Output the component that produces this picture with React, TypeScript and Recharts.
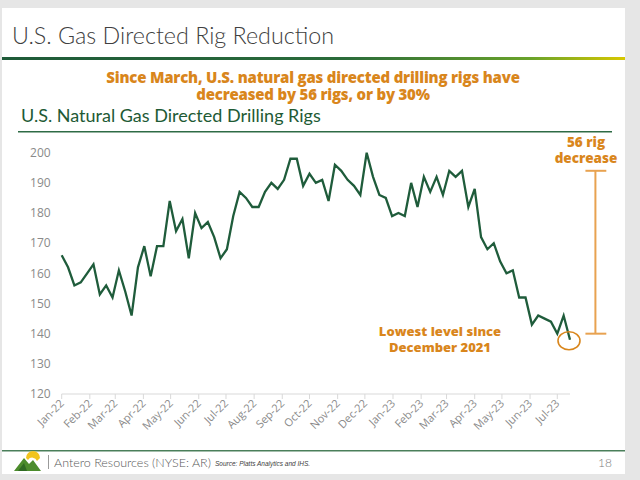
import React from 'react';
import { LineChart, Line, XAxis, YAxis, ReferenceLine, ReferenceDot } from 'recharts';

// Weekly U.S. natural gas directed rig counts, first week of Jan-2022 to mid Jul-2023
const rigCounts = [
  166, 162, 156, 157, 160, 163, 153, 156, 152, 161, 154, 146, 162, 169, 159, 169, 169, 184, 174, 178,
  165, 180, 175, 177, 172, 165, 168, 179, 187, 185, 182, 182, 187, 190, 188, 191, 198, 198, 189, 193,
  190, 191, 184, 196, 194, 191, 189, 186, 200, 192, 186, 185, 179, 180, 179, 190, 182, 192, 187, 192,
  186, 194, 192, 194, 182, 188, 172, 168, 170, 164, 160, 161, 152, 152, 143, 146, 145, 144, 140, 146, 138,
];
const monthLabels = [
  'Jan-22', 'Feb-22', 'Mar-22', 'Apr-22', 'May-22', 'Jun-22', 'Jul-22', 'Aug-22', 'Sep-22', 'Oct-22',
  'Nov-22', 'Dec-22', 'Jan-23', 'Feb-23', 'Mar-23', 'Apr-23', 'May-23', 'Jun-23', 'Jul-23',
];
const yTicks = [120, 130, 140, 150, 160, 170, 180, 190, 200];
const decreaseFrom = 194;
const decreaseTo = 140;

const DAY = 86400000;
const origin = Date.UTC(2022, 0, 1);
const monthDays = monthLabels.map((_, i) => Math.round((Date.UTC(2022, i, 1) - origin) / DAY));
const data = rigCounts.map((v, i) => ({ day: i * 7, rigs: v }));
const lastPoint = data[data.length - 1];
const barDay = 588;

const ORANGE = '#D9861C';
const BAR = '#E8A250';
const GREEN = '#1F5C3B';
const HEAVY = "'Open Sans', sans-serif";

const XTick = (props: any) => {
  const { x, y, payload } = props;
  const idx = monthDays.indexOf(payload.value);
  const label = idx >= 0 ? monthLabels[idx] : '';
  return (
    <g transform={`translate(${x + 3},${y + 3})`}>
      <text x={0} y={0} textAnchor="end" transform="rotate(-45)" fontSize={11} fill="#8a8a8a" fontFamily="'Open Sans', sans-serif">
        {label}
      </text>
    </g>
  );
};

const EllipseShape = (props: any) => (
  <ellipse cx={props.cx - 1} cy={props.cy + 1} rx={11} ry={9} fill="none" stroke={ORANGE} strokeWidth={1.6} />
);

export default function App() {
  return (
    <div style={{ position: 'absolute', left: 0, top: 0, width: 640, height: 480, background: '#e6e6e6', overflow: 'hidden' }}>
      <div style={{ position: 'absolute', left: 2, top: 8, width: 623, height: 466, background: '#ffffff' }} />
      <div style={{ position: 'absolute', left: 0, top: 0 }}>
        <LineChart width={640} height={480} data={data} margin={{ top: 152.7, right: 70, bottom: 26, left: 21.7 }}>
          <XAxis
            dataKey="day"
            type="number"
            domain={[0, 560]}
            ticks={monthDays}
            interval={0}
            height={60}
            stroke="#d9d9d9"
            tickSize={5}
            tickMargin={2}
            tick={<XTick />}
          />
          <YAxis
            type="number"
            domain={[120, 200]}
            ticks={yTicks}
            width={40}
            axisLine={false}
            tickLine={false}
            tickSize={0}
            tickMargin={11}
            tick={{ fontSize: 12, fill: '#8a8a8a', fontFamily: "'Open Sans', sans-serif" }}
          />
          <Line type="linear" dataKey="rigs" stroke={GREEN} strokeWidth={2.3} dot={false} isAnimationActive={false} />
          <ReferenceLine segment={[{ x: barDay, y: decreaseFrom }, { x: barDay, y: decreaseTo }]} stroke={BAR} strokeWidth={2} ifOverflow="visible" />
          <ReferenceLine segment={[{ x: barDay - 11, y: decreaseFrom }, { x: barDay + 12, y: decreaseFrom }]} stroke={BAR} strokeWidth={2} ifOverflow="visible" />
          <ReferenceLine segment={[{ x: barDay - 11, y: decreaseTo }, { x: barDay + 12, y: decreaseTo }]} stroke={BAR} strokeWidth={2} ifOverflow="visible" />
          <ReferenceDot x={lastPoint.day} y={lastPoint.rigs} ifOverflow="visible" shape={<EllipseShape />} />
        </LineChart>
      </div>
      <svg width={640} height={480} style={{ position: 'absolute', left: 0, top: 0, pointerEvents: 'none' }}>
        <defs>
          <linearGradient id="rule" x1="0" x2="1" y1="0" y2="0">
            <stop offset="0" stopColor="#1E5A38" />
            <stop offset="0.55" stopColor="#2A6B3A" />
            <stop offset="0.85" stopColor="#6AA32A" />
            <stop offset="1" stopColor="#D8C800" />
          </linearGradient>
        </defs>
        <text x={12} y={44} fontFamily="Lato, sans-serif" fontWeight={300} fontSize={23.3} fill="#404040">U.S. Gas Directed Rig Reduction</text>
        <rect x={2} y={57} width={623} height={3} fill="url(#rule)" />
        <g fontFamily={HEAVY} fontWeight={800} fill={ORANGE} textAnchor="middle">
          <text x={313} y={83} fontSize={15} letterSpacing={-0.2}>Since March, U.S. natural gas directed drilling rigs have</text>
          <text x={313} y={100} fontSize={15} letterSpacing={-0.2}>decreased by 56 rigs, or by 30%</text>
          <text x={586} y={147} fontSize={13.5}>56 rig</text>
          <text x={586} y={163} fontSize={13.5}>decrease</text>
          <text x={440} y={336} fontSize={13}>Lowest level since</text>
          <text x={440} y={352} fontSize={13}>December 2021</text>
        </g>
        <text x={21} y={122} fontFamily="Lato, sans-serif" fontSize={18} fill="#1E5A35">U.S. Natural Gas Directed Drilling Rigs</text>
        <rect x={18} y={131} width={594} height={1.5} fill="#2E6B45" />
        <rect x={2} y={450} width={623} height={1.5} fill="#4A7F5A" />
        <g>
          <path d="M14 471 L24 458 L29 464 L33 460 L41 471 Z" fill="#4C8C2C" />
          <path d="M18 471 L24 463 L27 471 Z" fill="#2F6A22" />
          <path d="M26 458 A7 7 0 0 1 40 458 L37 461 A5 5 0 0 0 28 460 Z" fill="#F2C41E" />
        </g>
        <rect x={48} y={455} width={1} height={14} fill="#9a9a9a" />
        <text x={54} y={467} fontFamily="Lato, sans-serif" fontWeight={300} fontSize={12.5} fill="#595959">Antero Resources (NYSE: AR)</text>
        <text x={215} y={466} fontFamily="'Liberation Sans', sans-serif" fontStyle="italic" fontSize={6.5} fill="#404040">Source:  Platts Analytics and IHS.</text>
        <text x={612} y={467} textAnchor="end" fontFamily="Lato, sans-serif" fontWeight={300} fontSize={12} fill="#7a7a7a">18</text>
      </svg>
    </div>
  );
}
